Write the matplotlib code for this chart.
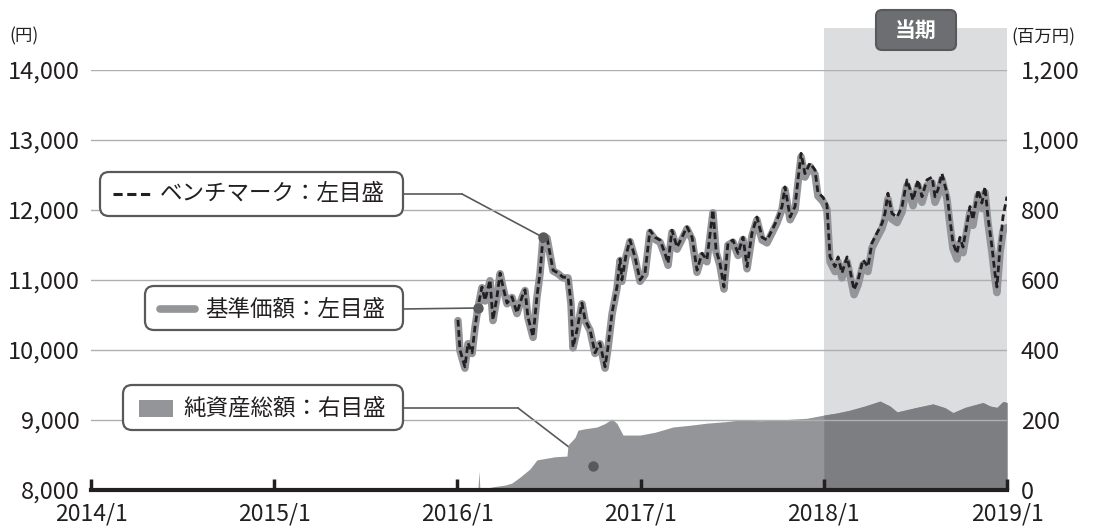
import matplotlib
matplotlib.use('Agg')
import matplotlib.pyplot as plt
from matplotlib.patches import FancyBboxPatch, Rectangle, ConnectionPatch
import numpy as np

plt.rcParams['font.family'] = ['Noto Sans CJK JP', 'DejaVu Sans']

# --- data ---
# dates as decimal years
dates = [
    2016.003, 2016.014, 2016.041, 2016.058, 2016.080, 2016.096, 2016.112, 2016.134, 2016.151, 2016.178,
    2016.194, 2016.216, 2016.233, 2016.249, 2016.271, 2016.298, 2016.325, 2016.353, 2016.369, 2016.385,
    2016.413, 2016.434, 2016.451, 2016.467, 2016.489, 2016.505, 2016.522, 2016.549, 2016.576, 2016.604,
    2016.620, 2016.631, 2016.653, 2016.680, 2016.697, 2016.724, 2016.751, 2016.778, 2016.806, 2016.822,
    2016.844, 2016.871, 2016.888, 2016.898, 2016.920, 2016.942, 2016.969, 2016.997,
    2017.024, 2017.051, 2017.079, 2017.106, 2017.133, 2017.150, 2017.171, 2017.199, 2017.226, 2017.253,
    2017.281, 2017.308, 2017.335, 2017.362, 2017.395, 2017.412, 2017.433, 2017.455, 2017.477, 2017.504,
    2017.532, 2017.559, 2017.581, 2017.608, 2017.635, 2017.663, 2017.690, 2017.717, 2017.745, 2017.772,
    2017.788, 2017.816, 2017.843, 2017.859, 2017.876, 2017.897, 2017.925, 2017.952, 2017.968, 2017.996,
    2018.017, 2018.034, 2018.061, 2018.078, 2018.099, 2018.127, 2018.143, 2018.165, 2018.187, 2018.214,
    2018.241, 2018.263, 2018.290, 2018.318, 2018.334, 2018.350, 2018.372, 2018.400, 2018.427, 2018.454,
    2018.471, 2018.487, 2018.514, 2018.536, 2018.563, 2018.591, 2018.607, 2018.623, 2018.645, 2018.672,
    2018.689, 2018.705, 2018.727, 2018.743, 2018.760, 2018.782, 2018.798, 2018.814, 2018.842, 2018.863,
    2018.880, 2018.896, 2018.918, 2018.934, 2018.945, 2018.962, 2018.978, 2019.000,
]

# benchmark (left axis, yen)
bench = [
    10430, 10000, 9760, 10100, 9960, 10330, 10610, 10900, 10710, 11000,
    10430, 10760, 11100, 10900, 10670, 10760, 10530, 10760, 10860, 10470,
    10190, 10760, 11100, 11610, 11610, 11380, 11140, 11100, 11040, 11040,
    10670, 10040, 10290, 10670, 10430, 10290, 9960, 10100, 9760, 10040,
    10530, 10900, 11300, 11000, 11350, 11570, 11330, 11000,
    11100, 11710, 11610, 11570, 11380, 11240, 11710, 11470, 11610, 11760,
    11610, 11140, 11380, 11290, 12000, 11430, 11240, 10900, 11530, 11570,
    11380, 11610, 11190, 11670, 11900, 11610, 11570, 11710, 11860, 12050,
    12330, 11900, 12050, 12430, 12810, 12520, 12670, 12570, 12250, 12180,
    12080, 11330, 11190, 11330, 11100, 11330, 11140, 10860, 11000, 11290,
    11190, 11530, 11670, 11810, 11950, 12240, 11950, 11900, 12050, 12430,
    12290, 12140, 12430, 12190, 12430, 12470, 12190, 12290, 12520, 12240,
    11860, 11530, 11380, 11610, 11470, 11810, 12050, 11860, 12290, 12100,
    12330, 11900, 11470, 11100, 10900, 11470, 11900, 12190,
]

# fund NAV per unit (left axis, yen)
nav = [
    10420, 9990, 9740, 10090, 9950, 10320, 10600, 10890, 10700, 10990,
    10420, 10750, 11090, 10890, 10660, 10750, 10520, 10750, 10850, 10460,
    10180, 10750, 11090, 11600, 11600, 11370, 11130, 11090, 11030, 11030,
    10660, 10030, 10280, 10660, 10420, 10280, 9950, 10090, 9740, 10020,
    10510, 10880, 11280, 10980, 11330, 11550, 11310, 10980,
    11080, 11680, 11580, 11540, 11350, 11210, 11680, 11440, 11580, 11730,
    11580, 11110, 11350, 11260, 11960, 11400, 11210, 10870, 11500, 11540,
    11350, 11580, 11160, 11630, 11860, 11570, 11530, 11670, 11820, 12010,
    12290, 11860, 12000, 12380, 12760, 12470, 12620, 12510, 12200, 12120,
    12010, 11260, 11120, 11260, 11030, 11260, 11070, 10790, 10930, 11220,
    11120, 11460, 11600, 11740, 11880, 12160, 11870, 11820, 11970, 12350,
    12210, 12060, 12350, 12110, 12350, 12390, 12110, 12210, 12440, 12160,
    11780, 11450, 11300, 11530, 11390, 11730, 11970, 11780, 12210, 12020,
    12250, 11820, 11390, 11020, 10820, 11390, 11700, 11750,
]

# net assets (right axis, million yen)
asset_dates = [
    2016.112, 2016.118, 2016.123, 2016.145, 2016.205, 2016.260, 2016.298, 2016.342, 2016.396, 2016.434,
    2016.478, 2016.533, 2016.598, 2016.604, 2016.642, 2016.658, 2016.697, 2016.762, 2016.806, 2016.844,
    2016.871, 2016.904, 2016.997, 2017.079, 2017.177, 2017.270, 2017.362, 2017.461, 2017.542, 2017.652,
    2017.723, 2017.816, 2017.908, 2018.000, 2018.072, 2018.143, 2018.225, 2018.307, 2018.361, 2018.400,
    2018.498, 2018.596, 2018.662, 2018.705, 2018.771, 2018.869, 2018.907, 2018.945, 2018.978, 2019.000,
]
assets = [
    0, 54, 0, 4, 10, 14, 20, 37, 60, 86,
    90, 95, 97, 129, 150, 171, 175, 180, 190, 203,
    190, 157, 157, 165, 180, 185, 191, 195, 200, 198,
    199, 202, 205, 214, 220, 228, 240, 254, 240, 223,
    235, 246, 235, 221, 236, 250, 240, 236, 253, 250,
]

left_ticks = [8000, 9000, 10000, 11000, 12000, 13000, 14000]
right_ticks = [0, 200, 400, 600, 800, 1000, 1200]
year_ticks = [2014, 2015, 2016, 2017, 2018, 2019]
year_labels = ['2014/1', '2015/1', '2016/1', '2017/1', '2018/1', '2019/1']
term_start, term_end = 2018, 2019

# callout anchors (data coords)
asset_anchor = (2016.74, 70)

TXT = '#231f20'
GREY = '#939598'
DARK = '#58595b'

W, H = 1094, 527
fig = plt.figure(figsize=(W / 100, H / 100), dpi=100)
ax = fig.add_axes([91 / W, 1 - 490 / H, (1007 - 91) / W, 420 / H])
ax2 = ax.twinx()
ax.set_zorder(2)
ax2.set_zorder(1)
ax.patch.set_visible(False)

d = np.array(dates)
ad = np.array(asset_dates)
av = np.array(assets)

# current period shading (sticks out above the plot)
ax2.axvspan(term_start, term_end, ymin=0, ymax=(490 - 28) / 420, color='#dcdddf',
            lw=0, zorder=0, clip_on=False)

# net assets area
ax2.fill_between(ad, av, color=GREY, lw=0, zorder=1)
m = ad >= term_start
ax2.fill_between(ad[m], av[m], color='#7d7e81', lw=0, zorder=2)
ax2.set_ylim(0, 1200)

# lines
ax.plot(d, nav, color=GREY, lw=5.4, solid_joinstyle='round', solid_capstyle='round', zorder=3)
ax.plot(d, bench, color=TXT, lw=2.0, dashes=(2.4, 1.3), zorder=4)

ax.set_xlim(2014, 2019)
ax.set_ylim(8000, 14000)
ax.set_yticks(left_ticks, [f'{v:,}' for v in left_ticks])
ax2.set_yticks(right_ticks, [f'{v:,}' for v in right_ticks])
ax.set_xticks(year_ticks, year_labels)

ax.yaxis.grid(True, color='#aeafb1', lw=1)
ax.set_axisbelow(True)

for s in ['top', 'left', 'right']:
    ax.spines[s].set_visible(False)
for s in ax2.spines.values():
    s.set_visible(False)
ax.spines['bottom'].set_linewidth(3)
ax.spines['bottom'].set_color(TXT)

ax.tick_params(axis='y', length=0, pad=8, labelsize=17, labelcolor=TXT)
ax2.tick_params(axis='y', length=0, pad=10, labelsize=17, labelcolor=TXT)
ax.tick_params(axis='x', direction='in', length=8, width=2.5, color=TXT, pad=9,
               labelsize=16.5, labelcolor=TXT)

# overlay in pixel coords for labels / callouts
oax = fig.add_axes([0, 0, 1, 1], zorder=5)
oax.set_xlim(0, W)
oax.set_ylim(H, 0)
oax.axis('off')

oax.text(9, 36, '(円)', fontsize=12.5, color=TXT, va='center')
oax.text(1011, 37, '(百万円)', fontsize=12.5, color=TXT, va='center')

# 当期 tag
oax.add_patch(FancyBboxPatch((876, 10), 80, 40, boxstyle='round,pad=0,rounding_size=6',
                             fc='#6d6e71', ec='#58595b', lw=1.5))
oax.text(916, 30, '当期', fontsize=15, color='white', weight='bold', ha='center', va='center')


def callout_box(x, y, w, h):
    oax.add_patch(FancyBboxPatch((x, y), w, h, boxstyle='round,pad=0,rounding_size=9',
                                 fc='white', ec=DARK, lw=1.6, zorder=3))


def leader(pts, target, target_ax):
    xs, ys = zip(*pts)
    oax.plot(xs, ys, color=DARK, lw=1.2, zorder=2)
    con = ConnectionPatch(xyA=pts[-1], coordsA=oax.transData, xyB=target,
                          coordsB=target_ax.transData, color=DARK, lw=1.2)
    fig.add_artist(con)
    target_ax.plot(*target, 'o', color=DARK, ms=6.5, zorder=6)


# benchmark callout
leader([(403, 194), (462, 194)], (dates[23], bench[23]), ax)
callout_box(100, 172, 303, 44)
oax.plot([113, 150], [194, 194], color=TXT, lw=2.2, dashes=(3, 1.5), zorder=4)
oax.text(160, 194, 'ベンチマーク：左目盛', fontsize=16.2, color=TXT, va='center', zorder=4)

# NAV callout
leader([(403, 309)], (dates[6], nav[6]), ax)
callout_box(145, 286, 258, 44)
oax.plot([160, 195], [309, 309], color=GREY, lw=5.5, solid_capstyle='round', zorder=4)
oax.text(205, 309, '基準価額：左目盛', fontsize=16.2, color=TXT, va='center', zorder=4)

# net assets callout
leader([(403, 408), (518, 408)], asset_anchor, ax2)
callout_box(123, 385, 280, 45)
oax.add_patch(Rectangle((139, 400), 34, 17, fc=GREY, lw=0, zorder=4))
oax.text(183, 408, '純資産総額：右目盛', fontsize=16.2, color=TXT, va='center', zorder=4)

fig.savefig('out.png', dpi=100)
